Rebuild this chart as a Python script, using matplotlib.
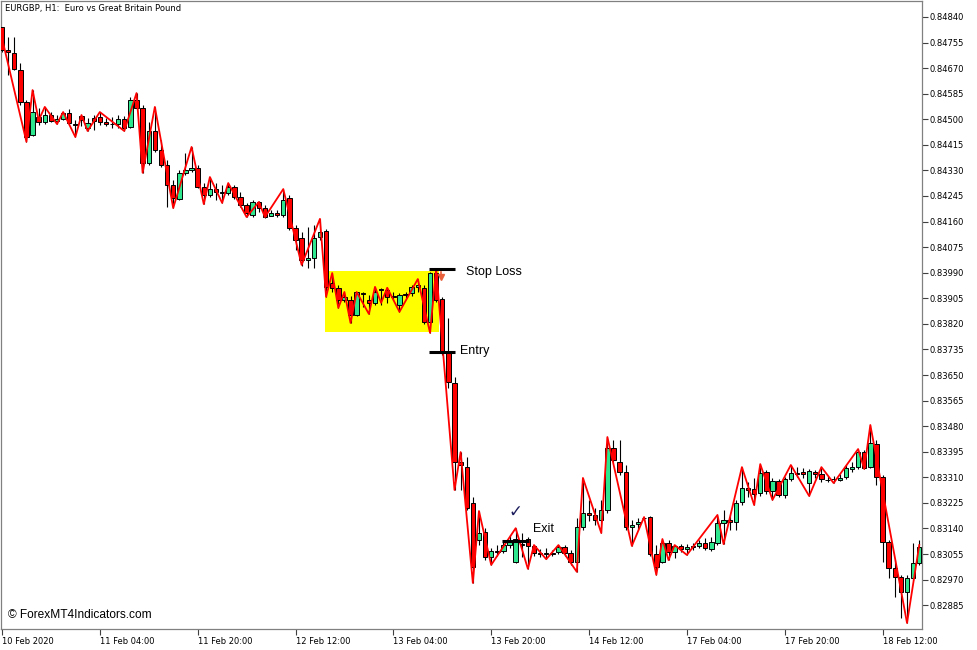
import numpy as np
import matplotlib
matplotlib.use('Agg')
import matplotlib.pyplot as plt
from matplotlib.patches import Rectangle

# EURGBP H1 candles (one per hour, 10 Feb 12:00 onwards)
opens = [0.84807, 0.84730, 0.84720, 0.84664, 0.84557, 0.84448, 0.84507, 0.84491, 0.84514, 0.84494,
         0.84501, 0.84521, 0.84484, 0.84511, 0.84471, 0.84504, 0.84507, 0.84491, 0.84484, 0.84484,
         0.84501, 0.84475, 0.84564, 0.84537, 0.84355, 0.84461, 0.84398, 0.84348, 0.84282, 0.84235,
         0.84322, 0.84332, 0.84338, 0.84275, 0.84248, 0.84268, 0.84255, 0.84255, 0.84275, 0.84242,
         0.84215, 0.84182, 0.84225, 0.84205, 0.84179, 0.84189, 0.84182, 0.84238, 0.84139, 0.84106,
         0.84032, 0.84039, 0.84109, 0.84129, 0.83956, 0.83940, 0.83900, 0.83900, 0.83850, 0.83923,
         0.83900, 0.83890, 0.83936, 0.83933, 0.83913, 0.83883, 0.83920, 0.83923, 0.83943, 0.83940,
         0.83827, 0.83989, 0.83903, 0.83727, 0.83624, 0.83361, 0.83344, 0.83225, 0.83102, 0.83128,
         0.83045, 0.83065, 0.83065, 0.83085, 0.83029, 0.83085, 0.83105, 0.83082, 0.83058, 0.83055,
         0.83058, 0.83062, 0.83078, 0.83058, 0.83029, 0.83145, 0.83191, 0.83185, 0.83168, 0.83201,
         0.83408, 0.83361, 0.83328, 0.83145, 0.83155, 0.83175, 0.83178, 0.83055, 0.83029, 0.83092,
         0.83062, 0.83082, 0.83072, 0.83082, 0.83082, 0.83092, 0.83072, 0.83092, 0.83158, 0.83168,
         0.83161, 0.83228, 0.83275, 0.83271, 0.83258, 0.83328, 0.83264, 0.83298, 0.83251, 0.83304,
         0.83324, 0.83328, 0.83291, 0.83328, 0.83321, 0.83301, 0.83304, 0.83301, 0.83311, 0.83338,
         0.83344, 0.83394, 0.83344, 0.83421, 0.83311, 0.83095, 0.83009, 0.82979, 0.82929, 0.82976,
         0.83025]
highs = [0.84807, 0.84774, 0.84774, 0.84687, 0.84564, 0.84597, 0.84537, 0.84541, 0.84524, 0.84514,
         0.84524, 0.84534, 0.84497, 0.84514, 0.84504, 0.84514, 0.84524, 0.84504, 0.84507, 0.84514,
         0.84511, 0.84574, 0.84587, 0.84547, 0.84491, 0.84541, 0.84431, 0.84365, 0.84298, 0.84332,
         0.84388, 0.84408, 0.84348, 0.84288, 0.84308, 0.84288, 0.84282, 0.84288, 0.84282, 0.84258,
         0.84222, 0.84232, 0.84228, 0.84215, 0.84199, 0.84199, 0.84268, 0.84248, 0.84149, 0.84125,
         0.84142, 0.84149, 0.84169, 0.84135, 0.83989, 0.83950, 0.83926, 0.83913, 0.83926, 0.83926,
         0.83916, 0.83943, 0.83940, 0.83940, 0.83926, 0.83923, 0.83926, 0.83950, 0.83969, 0.83950,
         0.83993, 0.84003, 0.83910, 0.83840, 0.83644, 0.83394, 0.83378, 0.83245, 0.83198, 0.83141,
         0.83075, 0.83085, 0.83095, 0.83118, 0.83141, 0.83125, 0.83111, 0.83085, 0.83072, 0.83075,
         0.83068, 0.83085, 0.83085, 0.83068, 0.83175, 0.83308, 0.83235, 0.83208, 0.83235, 0.83444,
         0.83434, 0.83434, 0.83351, 0.83168, 0.83175, 0.83178, 0.83181, 0.83085, 0.83105, 0.83102,
         0.83085, 0.83088, 0.83088, 0.83092, 0.83102, 0.83108, 0.83111, 0.83185, 0.83201, 0.83185,
         0.83235, 0.83344, 0.83294, 0.83308, 0.83354, 0.83335, 0.83308, 0.83304, 0.83311, 0.83351,
         0.83344, 0.83341, 0.83338, 0.83335, 0.83344, 0.83314, 0.83314, 0.83321, 0.83351, 0.83361,
         0.83404, 0.83401, 0.83484, 0.83434, 0.83318, 0.83102, 0.83035, 0.82986, 0.82986, 0.83092,
         0.83102]
lows = [0.84724, 0.84647, 0.84664, 0.84547, 0.84425, 0.84445, 0.84481, 0.84484, 0.84491, 0.84484,
        0.84497, 0.84484, 0.84441, 0.84478, 0.84461, 0.84465, 0.84481, 0.84478, 0.84471, 0.84471,
        0.84461, 0.84471, 0.84531, 0.84322, 0.84348, 0.84391, 0.84342, 0.84209, 0.84205, 0.84232,
        0.84315, 0.84325, 0.84272, 0.84218, 0.84242, 0.84232, 0.84222, 0.84248, 0.84235, 0.84209,
        0.84175, 0.84175, 0.84192, 0.84172, 0.84179, 0.84175, 0.84175, 0.84132, 0.84066, 0.84013,
        0.84006, 0.84006, 0.84099, 0.83910, 0.83926, 0.83873, 0.83893, 0.83823, 0.83846, 0.83876,
        0.83853, 0.83883, 0.83883, 0.83890, 0.83900, 0.83860, 0.83906, 0.83913, 0.83926, 0.83820,
        0.83790, 0.83893, 0.83717, 0.83607, 0.83268, 0.83268, 0.83201, 0.82959, 0.83085, 0.83035,
        0.83019, 0.83048, 0.83058, 0.83075, 0.83025, 0.83045, 0.83006, 0.83048, 0.83045, 0.83038,
        0.83048, 0.83055, 0.83048, 0.83019, 0.82996, 0.83135, 0.83165, 0.83151, 0.83125, 0.83191,
        0.83361, 0.83318, 0.83135, 0.83082, 0.83135, 0.83168, 0.83048, 0.82986, 0.83025, 0.83035,
        0.83042, 0.83062, 0.83052, 0.83068, 0.83075, 0.83068, 0.83065, 0.83085, 0.83088, 0.83135,
        0.83135, 0.83218, 0.83245, 0.83218, 0.83248, 0.83254, 0.83235, 0.83245, 0.83241, 0.83298,
        0.83311, 0.83308, 0.83248, 0.83308, 0.83294, 0.83294, 0.83291, 0.83298, 0.83304, 0.83328,
        0.83338, 0.83338, 0.83341, 0.83285, 0.83029, 0.82976, 0.82912, 0.82842, 0.82826, 0.82969,
        0.83019]
closes = [0.84730, 0.84724, 0.84667, 0.84557, 0.84441, 0.84524, 0.84491, 0.84514, 0.84494, 0.84501,
          0.84521, 0.84488, 0.84481, 0.84497, 0.84488, 0.84494, 0.84491, 0.84484, 0.84485, 0.84501,
          0.84471, 0.84564, 0.84537, 0.84355, 0.84461, 0.84398, 0.84348, 0.84282, 0.84238, 0.84322,
          0.84332, 0.84338, 0.84275, 0.84248, 0.84268, 0.84258, 0.84258, 0.84275, 0.84242, 0.84215,
          0.84189, 0.84225, 0.84205, 0.84175, 0.84189, 0.84182, 0.84232, 0.84139, 0.84099, 0.84032,
          0.84039, 0.84106, 0.84125, 0.83943, 0.83940, 0.83900, 0.83910, 0.83850, 0.83926, 0.83920,
          0.83890, 0.83926, 0.83933, 0.83910, 0.83910, 0.83916, 0.83916, 0.83943, 0.83950, 0.83827,
          0.83989, 0.83900, 0.83727, 0.83627, 0.83361, 0.83351, 0.83208, 0.83012, 0.83125, 0.83045,
          0.83065, 0.83062, 0.83085, 0.83102, 0.83105, 0.83088, 0.83082, 0.83058, 0.83055, 0.83058,
          0.83056, 0.83078, 0.83058, 0.83029, 0.83145, 0.83191, 0.83185, 0.83168, 0.83201, 0.83408,
          0.83368, 0.83328, 0.83145, 0.83151, 0.83161, 0.83174, 0.83055, 0.83012, 0.83092, 0.83062,
          0.83082, 0.83072, 0.83078, 0.83080, 0.83092, 0.83075, 0.83095, 0.83158, 0.83168, 0.83161,
          0.83225, 0.83275, 0.83268, 0.83254, 0.83324, 0.83264, 0.83298, 0.83251, 0.83304, 0.83324,
          0.83321, 0.83321, 0.83331, 0.83321, 0.83304, 0.83302, 0.83303, 0.83308, 0.83341, 0.83344,
          0.83394, 0.83341, 0.83424, 0.83311, 0.83095, 0.83009, 0.82979, 0.82929, 0.82976, 0.83025,
          0.83078]

# zigzag indicator turning points (bar index, price)
zz_bars = [0, 4, 5, 6, 7, 9, 10, 12, 13, 14, 16, 20, 22, 23, 25, 28, 31, 33, 34, 36,
           37, 40, 42, 43, 46, 49, 52, 53, 54, 55, 56, 57, 58, 60, 61, 62, 63, 65, 68, 70,
           71, 74, 75, 77, 78, 80, 84, 86, 87, 89, 91, 94, 95, 98, 99, 103, 105, 107, 108, 109,
           110, 112, 117, 118, 121, 123, 124, 126, 129, 132, 134, 136, 140, 141, 142, 148, 150]
zz_prices = [0.84770, 0.84425, 0.84597, 0.84497, 0.84541, 0.84484, 0.84524, 0.84441, 0.84514, 0.84461,
             0.84524, 0.84461, 0.84587, 0.84322, 0.84541, 0.84205, 0.84408, 0.84218, 0.84308, 0.84222,
             0.84288, 0.84175, 0.84225, 0.84175, 0.84268, 0.84016, 0.84169, 0.83910, 0.83989, 0.83873,
             0.83926, 0.83823, 0.83926, 0.83853, 0.83943, 0.83890, 0.83940, 0.83860, 0.83969, 0.83790,
             0.84003, 0.83268, 0.83394, 0.82959, 0.83198, 0.83019, 0.83141, 0.83006, 0.83085, 0.83038,
             0.83085, 0.82996, 0.83308, 0.83125, 0.83444, 0.83082, 0.83178, 0.82986, 0.83105, 0.83035,
             0.83085, 0.83052, 0.83185, 0.83088, 0.83344, 0.83218, 0.83354, 0.83235, 0.83351, 0.83248,
             0.83344, 0.83291, 0.83404, 0.83338, 0.83484, 0.82826, 0.83085]

date_bars = [0, 16, 32, 48, 64, 80, 96, 112, 128, 144]
date_labels = ['10 Feb 2020', '11 Feb 04:00', '11 Feb 20:00', '12 Feb 12:00', '13 Feb 04:00',
               '13 Feb 20:00', '14 Feb 12:00', '17 Feb 04:00', '17 Feb 20:00', '18 Feb 12:00']
price_ticks = np.round(0.84840 - 0.00085 * np.arange(24), 5)

# trade setup drawn on the chart
box_bars = (52.9, 71.5)
box_prices = (0.83793, 0.83996)
stop_loss = 0.84003
entry = 0.83727
exit_price = 0.83098

bull_col = '#2ee68e'
bear_col = '#ff0000'

fig = plt.figure(figsize=(9.77, 6.5), dpi=100)
ax = fig.add_axes([1/977, 21/650, 920.7/977, 628/650])

o = np.array(opens)
h = np.array(highs)
l = np.array(lows)
c = np.array(closes)
idx = np.arange(len(o))
up = c >= o

# consolidation box
ax.add_patch(Rectangle((box_bars[0], box_prices[0]), box_bars[1] - box_bars[0],
                       box_prices[1] - box_prices[0], facecolor='#ffff00', edgecolor='none', zorder=1))

# candles
ax.vlines(idx, l, h, color='black', lw=0.8, zorder=2)
bot = np.minimum(o, c)
hgt = np.maximum(np.abs(c - o), 0.000005)
ax.bar(idx[up], hgt[up], 0.72, bottom=bot[up], color=bull_col, edgecolor='black', lw=0.7, zorder=3)
ax.bar(idx[~up], hgt[~up], 0.72, bottom=bot[~up], color=bear_col, edgecolor='black', lw=0.7, zorder=3)

# zigzag
ax.plot(zz_bars, zz_prices, color='#ff0000', lw=1.3, zorder=4)

# trade levels
ax.hlines(stop_loss, 69.9, 74.0, color='black', lw=2.2, zorder=5)
ax.hlines(entry, 69.9, 74.0, color='black', lw=2.2, zorder=5)
ax.hlines(exit_price, 81.7, 86.2, color='black', lw=2.2, zorder=5)
ax.plot([71.8], [0.83975], marker='v', ms=5, color='#e8603c', zorder=6)
ax.plot([71.8, 71.8], [0.83975, 0.83992], color='#e8603c', lw=1.2, zorder=6)

ax.text(75.9, 0.83993, 'Stop Loss', fontsize=9, family='Liberation Sans', va='center', zorder=6)
ax.text(74.9, 0.83730, 'Entry', fontsize=9, family='Liberation Sans', va='center', zorder=6)
ax.text(86.8, 0.83139, 'Exit', fontsize=9, family='Liberation Sans', va='center', zorder=6)
ax.text(83.9, 0.83195, '\u2713', fontsize=12, color='#1c1c5c', ha='center', va='center', zorder=6)

ax.set_xlim(-0.16, 150.4)
ax.set_ylim(0.82806, 0.84893)

ax.yaxis.tick_right()
ax.set_yticks(price_ticks)
ax.set_yticklabels(['%.5f' % p for p in price_ticks])
ax.set_xticks(date_bars)
ax.set_xticklabels(date_labels)
for lbl in ax.get_xticklabels():
    lbl.set_ha('left')
ax.tick_params(axis='both', length=4, width=0.8, color='#404040', labelsize=6, pad=1.5)
for lbl in ax.get_xticklabels() + ax.get_yticklabels():
    lbl.set_family('DejaVu Sans')
for sp in ax.spines.values():
    sp.set_color('#808080')
    sp.set_linewidth(0.9)

fig.text(5/977, 1 - 8/650, 'EURGBP, H1:  Euro vs Great Britain Pound', fontsize=6,
         va='center', ha='left')
fig.text(8/977, 1 - 615/650, '\u00a9 ForexMT4Indicators.com', fontsize=8.6,
         family='Liberation Sans', va='center', ha='left')

fig.savefig('out.png', dpi=100)
